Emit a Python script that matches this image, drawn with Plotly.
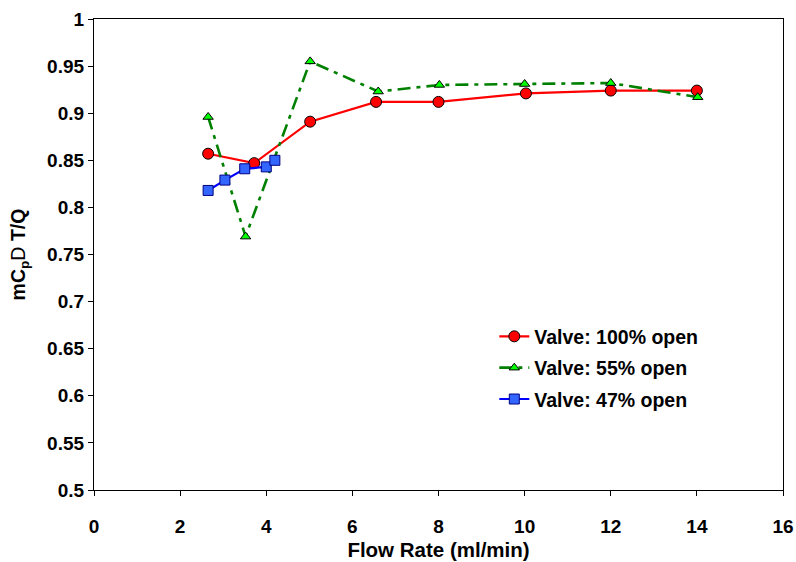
import plotly.graph_objects as go

# Flow rate (ml/min) and normalised heat ratio for each valve setting
flow_100 = [2.65, 3.72, 5.02, 6.55, 8.0, 10.03, 12.0, 14.0]
ratio_100 = [0.857, 0.847, 0.891, 0.912, 0.912, 0.921, 0.924, 0.924]

flow_55 = [2.65, 3.52, 5.02, 6.6, 8.02, 10.0, 12.0, 14.02]
ratio_55 = [0.896, 0.769, 0.955, 0.923, 0.930, 0.931, 0.932, 0.917]

flow_47 = [2.65, 3.04, 3.5, 4.0, 4.2]
ratio_47 = [0.818, 0.829, 0.841, 0.843, 0.850]

x_ticks = [0, 2, 4, 6, 8, 10, 12, 14, 16]
y_ticks = [0.5, 0.55, 0.6, 0.65, 0.7, 0.75, 0.8, 0.85, 0.9, 0.95, 1]
y_tick_text = ["0.5", "0.55", "0.6", "0.65", "0.7", "0.75", "0.8", "0.85", "0.9", "0.95", "1"]

font_family = "Liberation Sans, Arial, sans-serif"

fig = go.Figure()

fig.add_trace(go.Scatter(
    x=flow_100, y=ratio_100, mode="lines+markers", name="Valve: 100% open",
    legendgroup="a",
    line=dict(color="#ff0000", width=2.2),
    marker=dict(symbol="circle", size=11, color="#ff0000",
                line=dict(color="#000000", width=1)),
))
fig.add_trace(go.Scatter(
    x=flow_55, y=ratio_55, mode="lines+markers", name="Valve: 55% open",
    legendgroup="b",
    line=dict(color="#008000", width=2.6, dash="13px,6px,4px,6px"),
    marker=dict(symbol="triangle-up", size=9, color="#00ff00",
                line=dict(color="#000000", width=1)),
))
fig.add_trace(go.Scatter(
    x=flow_47, y=ratio_47, mode="lines+markers", name="Valve: 47% open",
    legendgroup="c",
    line=dict(color="#0000ff", width=2.2),
    marker=dict(symbol="square", size=10, color="#3366ff",
                line=dict(color="#000080", width=1)),
))

axis_common = dict(
    showline=True, linecolor="#000000", linewidth=1.2, mirror=True,
    ticks="outside", ticklen=5, tickcolor="#000000", tickwidth=1,
    showgrid=False, zeroline=False, automargin=False,
    tickfont=dict(family=font_family, size=19, color="#000000", weight="bold"),
)

fig.update_xaxes(
    range=[0, 16], tickvals=x_ticks, ticklabelstandoff=14,
    title=dict(text="Flow Rate (ml/min)", standoff=6,
               font=dict(family=font_family, size=20.5, color="#000000", weight="bold")),
    **axis_common,
)
fig.update_yaxes(
    range=[0.5, 1], tickvals=y_ticks, ticktext=y_tick_text,
    title=dict(text="mC<sub>p</sub><span style=\"font-weight:normal\">D</span> T/Q", standoff=16,
               font=dict(family=font_family, size=19.5, color="#000000", weight="bold")),
    **axis_common,
)

fig.update_layout(
    width=796, height=562,
    margin=dict(l=94, r=13, t=19, b=72, autoexpand=False),
    paper_bgcolor="#ffffff", plot_bgcolor="#ffffff",
    showlegend=True,
    legend=dict(
        x=0.581, y=0.367, xanchor="left", yanchor="top",
        bgcolor="rgba(0,0,0,0)", traceorder="grouped", tracegroupgap=3,
        font=dict(family=font_family, size=19.5, color="#000000", weight="bold"),
    ),
)

fig.write_html("out.html")
